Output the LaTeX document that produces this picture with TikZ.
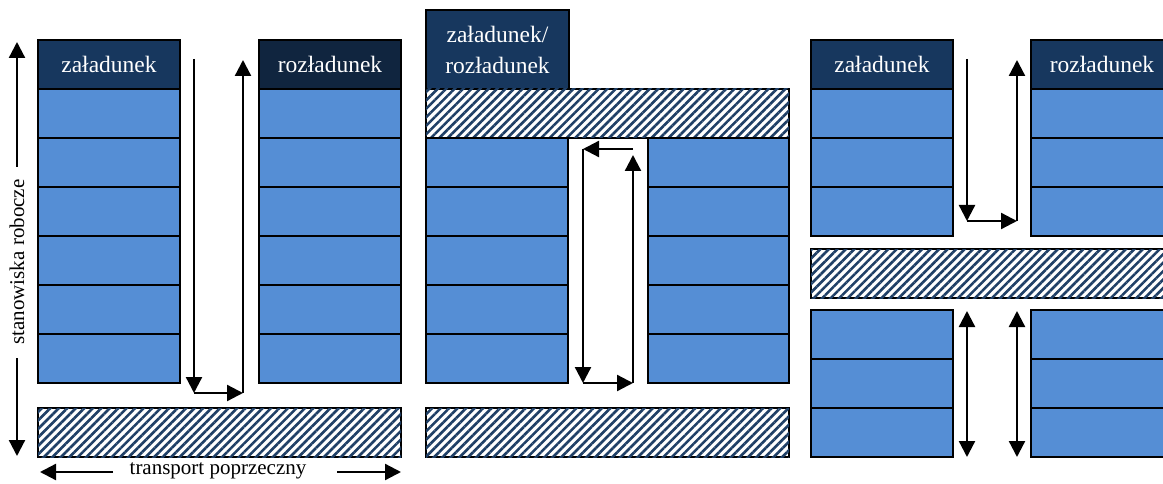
\documentclass[tikz,border=0pt]{standalone}
\usepackage{fontspec}
\setmainfont{Liberation Serif}
\usetikzlibrary{arrows.meta,patterns.meta}
\definecolor{cell}{HTML}{558ED5}
\definecolor{head}{HTML}{17375E}
\definecolor{headd}{HTML}{10253F}
\definecolor{stripe}{HTML}{1F3F66}
\begin{document}
\begin{tikzpicture}[x=1pt,y=-1pt,
  box/.style={draw=black,line width=1.8pt,fill=cell,minimum width=142pt,minimum height=49pt,inner sep=0pt,outer sep=0pt,anchor=north west},
  hdr/.style={box,fill=head,text=white,font=\fontsize{23.5}{31}\selectfont},
  bar/.style={draw=black,line width=1.6pt,fill=white,postaction={pattern={Lines[angle=45,distance=6pt,line width=2.6pt]},pattern color=stripe},minimum height=49pt,minimum width=363pt,inner sep=0pt,outer sep=0pt,anchor=north west},
  flow/.style={line width=2.3pt,-{Triangle[length=16pt,width=16pt]}},
  flowtwo/.style={line width=2.3pt,{Triangle[length=16pt,width=16pt]}-{Triangle[length=16pt,width=16pt]}},
  lbl/.style={font=\fontsize{21}{25}\selectfont,inner sep=0pt}]
\useasboundingbox (0,0) rectangle (1163,484);
\clip (0,0) rectangle (1163,484);
\fill[white] (0,0) rectangle (1163,484);

% ---------- left panel ----------
\node[hdr] (LzH) at (38,40) {załadunek};
\foreach \i in {1,...,6} \node[box] (Lz\i) at (38,{40+49*\i}) {};
\node[hdr,fill=headd] (LrH) at (259,40) {rozładunek};
\foreach \i in {1,...,6} \node[box] (Lr\i) at (259,{40+49*\i}) {};
\node[bar] (Lbar) at (38,408) {};

\coordinate (a1) at (194,59);
\coordinate (a2) at (194,393);
\coordinate (a3) at (243,393);
\coordinate (a4) at (243,60);
\draw[flow] (a1) -- (a2);
\draw[flow] (a2) -- (a3);
\draw[flow] (a3) -- (a4);

\node[lbl,rotate=90] (sr) at (17,262) {stanowiska robocze};
\coordinate (sTop) at (17,42);
\coordinate (sTopS) at (17,167);
\coordinate (sBot) at (17,456);
\coordinate (sBotS) at (17,358);
\draw[flow] (sTopS) -- (sTop);
\draw[flow] (sBotS) -- (sBot);

\node[lbl] (tp) at (218,471) {transport poprzeczny};
\coordinate (tLs) at (113,472);
\coordinate (tLe) at (40,472);
\coordinate (tRs) at (337,472);
\coordinate (tRe) at (401,472);
\draw[flow] (tLs) -- (tLe);
\draw[flow] (tRs) -- (tRe);

% ---------- middle panel ----------
\node[hdr,minimum height=79pt,minimum width=143pt,align=center] (MH) at (426,10) {załadunek/\\rozładunek};
\node[bar] (Mbar1) at (426,89) {};
\foreach \i in {1,...,5} \node[box] (Ml\i) at (426,{138+49*(\i-1)}) {};
\foreach \i in {1,...,5} \node[box,minimum width=141pt] (Mr\i) at (648,{138+49*(\i-1)}) {};
\node[bar] (Mbar2) at (426,408) {};

\coordinate (m1) at (583,149);
\coordinate (m2) at (583,383);
\coordinate (m3) at (633,383);
\coordinate (m4) at (633,149);
\coordinate (m4s) at (633,155);
\draw[flow] (m1) -- (m2);
\draw[flow] (m2) -- (m3);
\draw[flow] (m3) -- (m4s);
\draw[flow] (m4) -- (m1);

% ---------- right panel ----------
\node[hdr] (RzH) at (811,40) {załadunek};
\foreach \i in {1,...,3} \node[box] (Rz\i) at (811,{40+49*\i}) {};
\node[hdr] (RrH) at (1031,40) {rozładunek};
\foreach \i in {1,...,3} \node[box] (Rr\i) at (1031,{40+49*\i}) {};

\coordinate (r1) at (967,59);
\coordinate (r2) at (967,221);
\coordinate (r3) at (1017,221);
\coordinate (r4) at (1017,60);
\draw[flow] (r1) -- (r2);
\draw[flow] (r2) -- (r3);
\draw[flow] (r3) -- (r4);

\node[bar] (Rbar) at (811,249) {};

\foreach \i in {1,...,3} \node[box] (Rl\i) at (811,{310+49*(\i-1)}) {};
\foreach \i in {1,...,3} \node[box] (Rq\i) at (1031,{310+49*(\i-1)}) {};

\coordinate (d1t) at (967,311);
\coordinate (d1b) at (967,457);
\coordinate (d2t) at (1017,311);
\coordinate (d2b) at (1017,457);
\draw[flowtwo] (d1t) -- (d1b);
\draw[flowtwo] (d2t) -- (d2b);
\end{tikzpicture}
\end{document}
